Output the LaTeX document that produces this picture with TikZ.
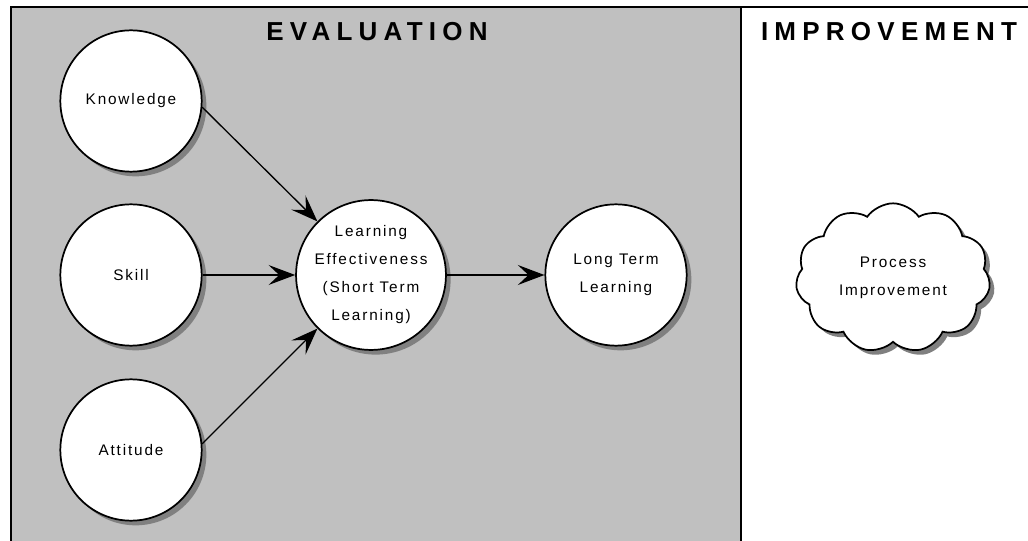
\documentclass[tikz,border=0pt]{standalone}
\usepackage{fontspec}
\setmainfont{Liberation Sans}
\usepackage{tikz}
\usetikzlibrary{shapes.symbols,arrows.meta,positioning,shadows}

\definecolor{panelgray}{HTML}{C0C0C0}
\definecolor{shadowgray}{HTML}{808080}

\begin{document}
\begin{tikzpicture}[
    x=0.75pt, y=-0.75pt,
    concept/.style={circle, draw, line width=1.3pt, fill=white, minimum size=106pt, inner sep=0pt, align=center,
        font=\fontsize{11.5}{21}\selectfont\addfontfeature{LetterSpace=12},
        drop shadow={shadow xshift=3.5pt, shadow yshift=-3.5pt, fill=shadowgray, opacity=1}},
    idea/.style={cloud, cloud puffs=11, cloud puff arc=110, aspect=1.3, draw, line width=1.3pt, fill=white,
        minimum width=146pt, minimum height=112pt, inner sep=0pt, align=center,
        font=\fontsize{11.5}{21}\selectfont\addfontfeature{LetterSpace=12},
        drop shadow={shadow xshift=3.5pt, shadow yshift=-3.5pt, fill=shadowgray, opacity=1}},
    heading/.style={font=\fontsize{19.5}{22}\selectfont\bfseries\addfontfeature{LetterSpace=24}},
    link/.style={line width=1pt, -{Stealth[length=20pt, width=15pt, inset=8pt]}}
]
    \useasboundingbox (0,0) rectangle (1028,541);
    \clip (0,0) rectangle (1028,541);

    % Panels
    \draw[line width=1.5pt, fill=panelgray] (11,7) rectangle (741,560);
    \draw[line width=1.5pt, fill=white] (741,7) rectangle (1040,560);
    \node[heading] (evaltitle) at (377,32) {EVALUATION};
    \node[heading] (imprtitle) at (889,32) {IMPROVEMENT};

    % Inputs
    \node[concept] (know) at (131,101) {Knowledge};
    \node[concept] (skill) at (131,275) {Skill};
    \node[concept] (att) at (131,450) {Attitude};

    % Outcomes
    \node[concept] (short) at (371,275) {Learning\\Effectiveness\\(Short Term\\Learning)};
    \node[concept] (long) at (616,275) {Long Term\\Learning};

    % Improvement cloud
    \node[idea] (proc) at (893,278) {Process\\Improvement};

    % Arrows
    \draw[link] (know.-5) -- (short.north west);
    \draw[link] (skill.east) -- (short.west);
    \draw[link] (att.5) -- (short.south west);
    \draw[link] (short.east) -- (long.west);
\end{tikzpicture}
\end{document}
